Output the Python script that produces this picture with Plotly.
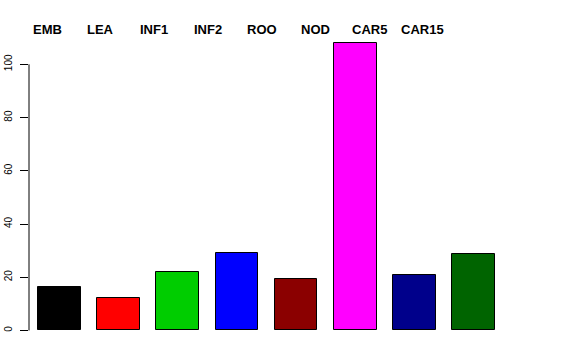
import plotly.graph_objects as go

categories = ["EMB", "LEA", "INF1", "INF2", "ROO", "NOD", "CAR5", "CAR15"]
values = [16.4, 12.3, 21.9, 29.0, 19.2, 108.2, 21.0, 28.6]
colors = ["#000000", "#FF0000", "#00CD00", "#0000FF", "#8B0000", "#FF00FF", "#00008B", "#006400"]
y_ticks = [0, 20, 40, 60, 80, 100]

W, H = 576, 360
left_px, right_px = 29, 504
plot_top, plot_bottom = 30.9, 342.5
x_range = [-0.512, 7.512]
y_range = [-0.04 * max(values), 1.04 * max(values)]

fig = go.Figure()
fig.add_trace(go.Bar(
    x=list(range(len(categories))), y=values, width=0.72,
    marker=dict(color=colors, line=dict(color="black", width=1)),
    hoverinfo="skip",
))

# category labels across the top, evenly spaced
label_start_px, label_step_px = 47, 53.7
label_y = (plot_bottom - 29.5) / (plot_bottom - plot_top)
for i, c in enumerate(categories):
    px = label_start_px + label_step_px * i
    fig.add_annotation(
        x=(px - left_px) / (right_px - left_px), xref="paper",
        y=label_y, yref="paper", yanchor="middle", xanchor="center",
        text=f"<b>{c}</b>", showarrow=False,
        font=dict(family="Liberation Sans, Arial, sans-serif", size=13, color="black"),
    )

# R-style y axis line from 0 to 100
fig.add_shape(type="line", xref="paper", yref="y", x0=0, x1=0, y0=y_ticks[0], y1=y_ticks[-1],
              line=dict(color="black", width=1))

fig.update_layout(
    width=W, height=H,
    margin=dict(l=left_px, r=W - right_px, t=plot_top, b=H - plot_bottom, pad=0, autoexpand=False),
    plot_bgcolor="white", paper_bgcolor="white",
    showlegend=False,
    xaxis=dict(range=x_range, visible=False, fixedrange=True, automargin=False),
    yaxis=dict(range=y_range, tickvals=y_ticks, ticktext=[str(t) for t in y_ticks],
               ticks="outside", ticklen=8, tickcolor="black", tickwidth=1, automargin=False,
               ticklabelstandoff=4,
               showgrid=False, zeroline=False, showline=False, tickangle=-90,
               tickfont=dict(family="Liberation Sans, Arial, sans-serif", size=10, color="black")),
    bargap=0,
)

fig.write_html("out.html", config={"displayModeBar": False},
               post_script="document.body.style.margin='0';document.body.style.overflow='hidden';")
